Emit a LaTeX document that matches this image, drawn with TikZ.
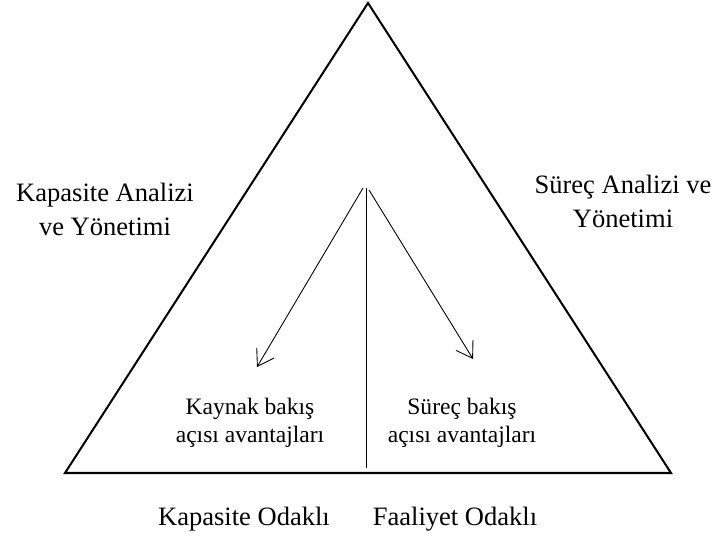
\documentclass[tikz,border=0pt]{standalone}
\usepackage{fontspec}
\setmainfont{Liberation Serif}
\usepackage{tikz}
\usetikzlibrary{arrows.meta, positioning}

\begin{document}
\begin{tikzpicture}[
	sidelbl/.style={align=center, inner sep=0pt, font=\fontsize{15.1}{19.35}\selectfont},
	innerlbl/.style={align=center, inner sep=0pt, font=\fontsize{13.4}{15.9}\selectfont},
	barb/.style={-{Straight Barb[length=3.1mm, width=4mm]}, line width=0.5pt}
	]
		\useasboundingbox (0,0) rectangle (14.32,10.76);
		
		\coordinate (apex) at (7.36,10.70);
		\coordinate (bl) at (1.30,1.30);
		\coordinate (br) at (13.42,1.30);
		\draw [line width=1.15pt, line join=miter] (apex)--(bl)--(br)--cycle;
		
		\coordinate (mid) at (7.32,7.00);
		\coordinate (midlow) at (7.32,1.40);
		\draw [line width=0.5pt] (mid)--(midlow);
		
		\coordinate (srcL) at (7.26,7.00);
		\coordinate (srcR) at (7.38,6.96);
		\coordinate (tipL) at (5.14,3.42);
		\coordinate (tipR) at (9.46,3.58);
		\draw [barb] (srcL)--(tipL);
		\draw [barb] (srcR)--(tipR);
		
		\node [sidelbl] (kapAnaliz) at (2.10,6.58) {Kapasite Analizi\\ve Yönetimi};
		\node [sidelbl] (surAnaliz) at (12.46,6.74) {Süreç Analizi ve\\Yönetimi};
		
		\node [innerlbl] (kaynakBakis) at (5.00,2.31) {Kaynak bakış\\açısı avantajları};
		\node [innerlbl] (surBakis) at (9.24,2.31) {Süreç bakış\\açısı avantajları};
		
		\node [sidelbl, anchor=base] (kapOdak) at (4.88,0.26) {Kapasite Odaklı};
		\node [sidelbl, anchor=base] (faalOdak) at (9.10,0.26) {Faaliyet Odaklı};
\end{tikzpicture}
\end{document}
